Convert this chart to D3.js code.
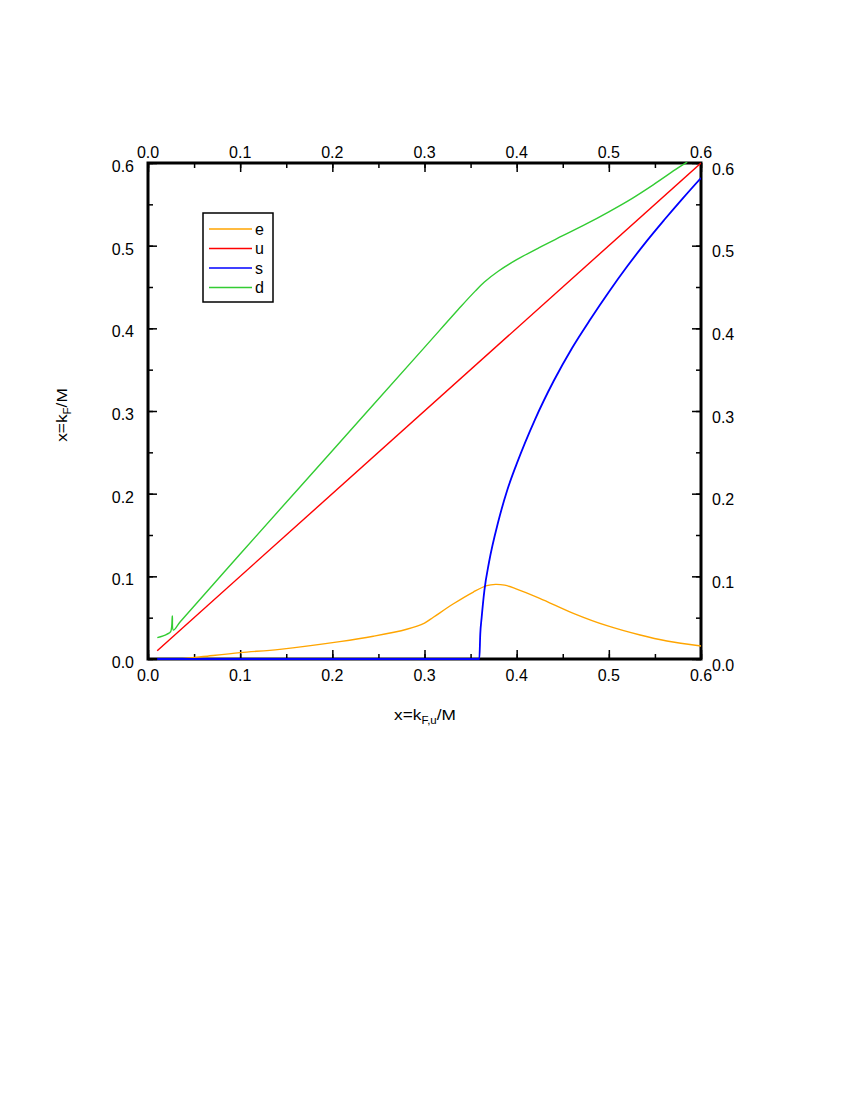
<!DOCTYPE html>
<html>
<head>
<meta charset="utf-8">
<script src="https://cdn.jsdelivr.net/npm/d3@7"></script>
<style>
  body { margin: 0; background: #fff; }
  svg { display: block; }
  text { font-family: "Liberation Sans", Arial, sans-serif; }
</style>
</head>
<body>
<svg id="chart" width="850" height="1100"></svg>
<script>
// ---- data ----
const seriesNames = ["e", "u", "s", "d"];
const seriesColors = ["#ffa500", "#ff0000", "#0000ff", "#33cc33"];
const tickValues = [0.0, 0.1, 0.2, 0.3, 0.4, 0.5, 0.6];
const tickLabels = ["0.0", "0.1", "0.2", "0.3", "0.4", "0.5", "0.6"];

const eX = [0.035, 0.06, 0.1, 0.143, 0.208, 0.2445, 0.2807, 0.3, 0.3096, 0.331, 0.353, 0.3675, 0.377, 0.387, 0.398, 0.425, 0.4615, 0.498, 0.534, 0.563, 0.6];
const eY = [0.0, 0.003, 0.0077, 0.0117, 0.021, 0.0275, 0.036, 0.0435, 0.0505, 0.0665, 0.081, 0.0887, 0.0903, 0.0893, 0.0855, 0.0734, 0.0553, 0.0403, 0.029, 0.0218, 0.0157];

const uX = [0.01, 0.6];
const uY = [0.01, 0.6];

const sX = [0.01, 0.3595, 0.3605, 0.362, 0.365, 0.37, 0.38, 0.39, 0.40, 0.42, 0.44, 0.46, 0.48, 0.50, 0.52, 0.54, 0.56, 0.58, 0.60];
const sY = [0.0, 0.0, 0.03, 0.05, 0.083, 0.117, 0.166, 0.205, 0.236, 0.29, 0.336, 0.376, 0.411, 0.444, 0.475, 0.504, 0.531, 0.557, 0.582];

const dX = [0.0101, 0.0203, 0.0246, 0.0264, 0.0275, 0.035, 0.1, 0.2, 0.3, 0.34, 0.355, 0.365, 0.38, 0.4, 0.425, 0.45, 0.475, 0.5, 0.525, 0.55, 0.575, 0.585];
const dY = [0.0258, 0.0299, 0.033, 0.052, 0.035, 0.045, 0.127, 0.252, 0.377, 0.427, 0.445, 0.456, 0.469, 0.483, 0.498, 0.512, 0.526, 0.541, 0.557, 0.575, 0.594, 0.601];

const seriesX = [eX, uX, sX, dX];
const seriesY = [eY, uY, sY, dY];

// ---- layout ----
const L = 148, R = 701, T = 163, B = 659;
const svg = d3.select("#chart");
const x = d3.scaleLinear().domain([0, 0.6]).range([L, R]);
const y = d3.scaleLinear().domain([0, 0.6]).range([B, T]);

const minor = d3.range(0, 0.6001, 0.05);

// ticks (inward) via d3 axes
function styleAxis(g) {
  g.select(".domain").remove();
  g.selectAll("line").attr("stroke", "#000").attr("stroke-width", 1.5);
  g.selectAll("text").remove();
}
const majorLen = 9, minorLen = 5;
svg.append("g").attr("transform", `translate(0,${B})`)
  .call(d3.axisTop(x).tickValues(minor).tickSize(minorLen)).call(styleAxis);
svg.append("g").attr("transform", `translate(0,${B})`)
  .call(d3.axisTop(x).tickValues(tickValues).tickSize(majorLen)).call(styleAxis);
svg.append("g").attr("transform", `translate(0,${T})`)
  .call(d3.axisBottom(x).tickValues(minor).tickSize(minorLen)).call(styleAxis);
svg.append("g").attr("transform", `translate(0,${T})`)
  .call(d3.axisBottom(x).tickValues(tickValues).tickSize(majorLen)).call(styleAxis);
svg.append("g").attr("transform", `translate(${L},0)`)
  .call(d3.axisRight(y).tickValues(minor).tickSize(minorLen)).call(styleAxis);
svg.append("g").attr("transform", `translate(${L},0)`)
  .call(d3.axisRight(y).tickValues(tickValues).tickSize(majorLen)).call(styleAxis);
svg.append("g").attr("transform", `translate(${R},0)`)
  .call(d3.axisLeft(y).tickValues(minor).tickSize(minorLen)).call(styleAxis);
svg.append("g").attr("transform", `translate(${R},0)`)
  .call(d3.axisLeft(y).tickValues(tickValues).tickSize(majorLen)).call(styleAxis);

// frame
svg.append("rect").attr("x", L).attr("y", T).attr("width", R - L).attr("height", B - T)
  .attr("fill", "none").attr("stroke", "#000").attr("stroke-width", 3);

// curves (clipped, drawn over frame)
svg.append("clipPath").attr("id", "clip")
  .append("rect").attr("x", L).attr("y", T - 1.5).attr("width", R - L).attr("height", B - T + 3);

const smoothLine = d3.line().x(p => x(p[0])).y(p => y(p[1])).curve(d3.curveCatmullRom.alpha(0.5));
const monoLine = d3.line().x(p => x(p[0])).y(p => y(p[1])).curve(d3.curveMonotoneX);
const gCurves = svg.append("g").attr("clip-path", "url(#clip)");
[3, 0, 1, 2].forEach(i => {
  const pts = seriesX[i].map((v, k) => [v, seriesY[i][k]]);
  gCurves.append("path")
    .attr("d", (i === 2 ? monoLine : smoothLine)(pts))
    .attr("fill", "none")
    .attr("stroke", seriesColors[i])
    .attr("stroke-width", i === 2 ? 1.8 : 1.4);
});

// tick labels
const fs = 16;
tickValues.forEach((v, i) => {
  svg.append("text").attr("x", x(v)).attr("y", T - 5).attr("text-anchor", "middle")
    .attr("font-size", fs).text(tickLabels[i]);
  svg.append("text").attr("x", x(v)).attr("y", B + 22).attr("text-anchor", "middle")
    .attr("font-size", fs).text(tickLabels[i]);
  svg.append("text").attr("x", L - 14).attr("y", y(v) + 9).attr("text-anchor", "end")
    .attr("font-size", fs).text(tickLabels[i]);
  svg.append("text").attr("x", R + 11).attr("y", y(v) + 11.5).attr("text-anchor", "start")
    .attr("font-size", fs).text(tickLabels[i]);
});

// axis titles
const xt = svg.append("text").attr("transform", "translate(425,720) scale(1.15,1)")
  .attr("text-anchor", "middle").attr("font-size", 15);
xt.append("tspan").text("x=k");
xt.append("tspan").attr("font-size", 10).attr("dy", 4).text("F,u");
xt.append("tspan").attr("dy", -4).text("/M");

const yt = svg.append("text").attr("transform", "translate(67,415) rotate(-90) scale(1.15,1)")
  .attr("text-anchor", "middle").attr("font-size", 15);
yt.append("tspan").text("x=k");
yt.append("tspan").attr("font-size", 10).attr("dy", 4).text("F");
yt.append("tspan").attr("dy", -4).text("/M");

// legend
const lg = svg.append("g");
lg.append("rect").attr("x", 203).attr("y", 213).attr("width", 70).attr("height", 89)
  .attr("fill", "#fff").attr("stroke", "#000").attr("stroke-width", 1.5);
seriesNames.forEach((n, i) => {
  const yy = 229 + i * 19.5;
  lg.append("line").attr("x1", 209).attr("x2", 252).attr("y1", yy).attr("y2", yy)
    .attr("stroke", seriesColors[i]).attr("stroke-width", 1.3);
  lg.append("text").attr("x", 255).attr("y", yy + 5.5).attr("font-size", 16).text(n);
});
</script>
</body>
</html>
